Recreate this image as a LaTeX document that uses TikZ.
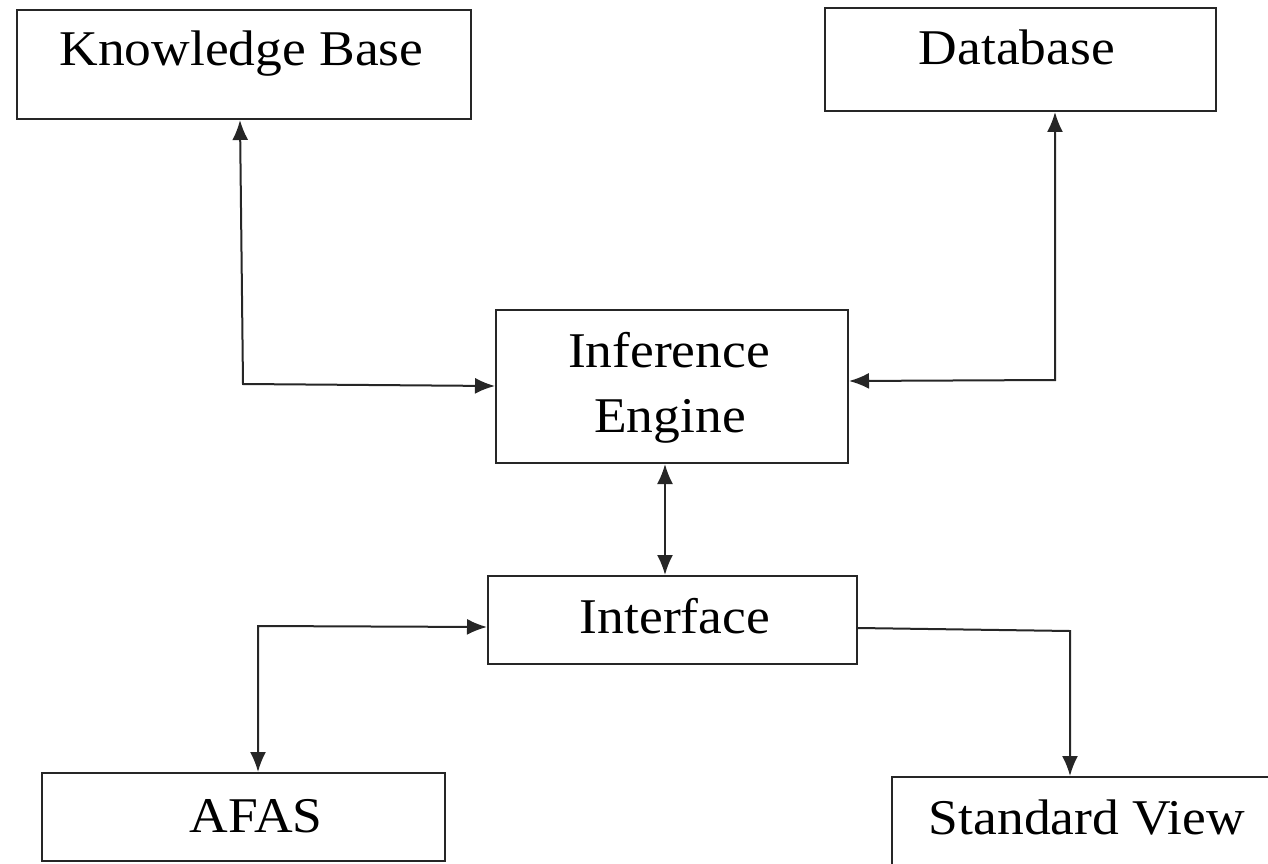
\documentclass[tikz,border=0pt]{standalone}
\usepackage{fontspec}
\setmainfont{Liberation Serif}[FakeStretch=1.07]
\usetikzlibrary{arrows.meta}
\begin{document}
\begin{tikzpicture}[x=1pt,y=-1pt,
  box/.style={draw=black!85, line width=2pt, inner sep=0pt},
  lbl/.style={anchor=base, inner sep=0pt, font=\fontsize{50}{65}\selectfont},
  conn/.style={line width=2pt, draw=black!85, line join=miter},
  both/.style={{Latex[length=20pt,width=16pt]}-{Latex[length=20pt,width=16pt]}},
  one/.style={-{Latex[length=20pt,width=16pt]}}]
\useasboundingbox (0,0) rectangle (1268,864);
\clip (0,0) rectangle (1268,864);
% boxes
\node[box, minimum width=454pt, minimum height=109pt] (kb) at (244,64.5) {};
\node[box, minimum width=391pt, minimum height=103pt] (db) at (1020.5,59.5) {};
\node[box, minimum width=352pt, minimum height=153pt] (ie) at (672,386.5) {};
\node[box, minimum width=369pt, minimum height=88pt] (if) at (672.5,620) {};
\node[box, minimum width=403pt, minimum height=88pt] (afas) at (243.5,817) {};
\node[box, minimum width=398pt, minimum height=112pt] (sv) at (1091,833) {};
% texts
\node[lbl] (kbt) at (241.5,66) {Knowledge Base};
\node[lbl] (dbt) at (1017,65) {Database};
\node[lbl] (iet1) at (669,367) {Inference};
\node[lbl] (iet2) at (670,432) {Engine};
\node[lbl] (ift) at (675,633) {Interface};
\node[lbl] (afast) at (256,832) {AFAS};
\node[lbl] (svt) at (1087,834) {Standard View};
% bend points
\coordinate (b1) at (243,384);
\coordinate (b2) at (1055,380);
\coordinate (b3) at (258,626);
\coordinate (b4) at (1070,631);
% connectors
\draw[conn, both] ([xshift=-4pt]kb.south) -- (b1) -- ([yshift=0.5pt]ie.west);
\draw[conn, both] (b2 |- db.south) -- (b2) -- ([yshift=5.5pt]ie.east);
\draw[conn, both] ([xshift=-7pt]ie.south) -- ([xshift=-7.5pt]if.north);
\draw[conn, both] ([yshift=-7pt]if.west) -- (b3) -- (b3 |- afas.north);
\draw[conn, one] ([yshift=-8pt]if.east) -- (b4) -- (b4 |- sv.north);
\end{tikzpicture}
\end{document}
